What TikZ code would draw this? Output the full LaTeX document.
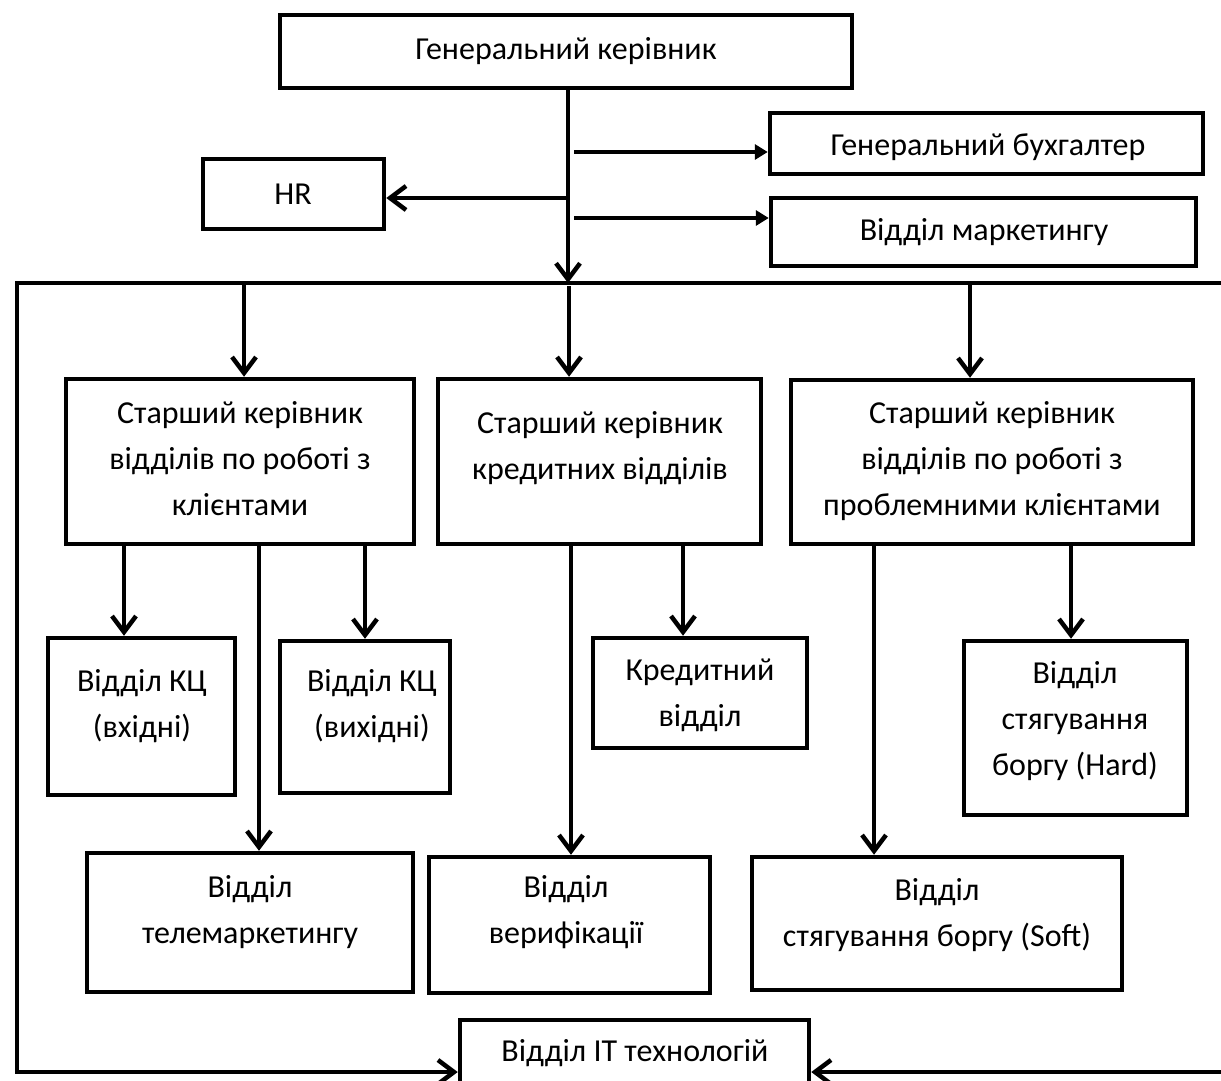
\documentclass[tikz,border=0pt]{standalone}
\usepackage{fontspec}
\setmainfont{Carlito}
\usetikzlibrary{arrows.meta}
\begin{document}
\begin{tikzpicture}[x=1pt,y=-1pt,
  box/.style={draw, line width=4.5pt, rectangle, inner sep=0pt},
  lbl/.style={align=center, font=\fontsize{32}{46}\selectfont, inner sep=0pt},
  conn/.style={line width=4.5pt},
  barb/.style={conn, -{Straight Barb[length=16pt,width=24pt]}},
  tri/.style={conn, -{Triangle[length=13pt,width=15pt]}},
]
\useasboundingbox (0,0) rectangle (1221,1081);

% boxes
\node[box, minimum width=572pt, minimum height=73pt] (gen) at (566,51.5) {};
\node[box, minimum width=433pt, minimum height=61pt] (buh) at (986.5,143.5) {};
\node[box, minimum width=181pt, minimum height=70pt] (hr) at (293.5,194) {};
\node[box, minimum width=425pt, minimum height=68pt] (mkt) at (983.5,232) {};
\node[box, minimum width=348pt, minimum height=165pt] (A) at (240,461.5) {};
\node[box, minimum width=323pt, minimum height=165pt] (B) at (599.5,461.5) {};
\node[box, minimum width=402pt, minimum height=164pt] (C) at (992,462) {};
\node[box, minimum width=187pt, minimum height=157pt] (kcin) at (141.5,716.5) {};
\node[box, minimum width=170pt, minimum height=152pt] (kcout) at (365,717) {};
\node[box, minimum width=214pt, minimum height=110pt] (kred) at (700,693) {};
\node[box, minimum width=223pt, minimum height=174pt] (hard) at (1075.5,728) {};
\node[box, minimum width=326pt, minimum height=139pt] (tele) at (250,922.5) {};
\node[box, minimum width=281pt, minimum height=136pt] (ver) at (569.5,925) {};
\node[box, minimum width=370pt, minimum height=133pt] (soft) at (937,923.5) {};
\node[box, minimum width=349pt, minimum height=80pt] (it) at (634.5,1060) {};

% labels
\node[lbl] (gen-t) at (566,51) {Генеральний керівник};
\node[lbl] (buh-t) at (988,147) {Генеральний бухгалтер};
\node[lbl] (hr-t) at (293,194) {HR};
\node[lbl] (mkt-t) at (984,232) {Відділ маркетингу};
\node[lbl] (A-t) at (240,459) {Старший керівник\\відділів по роботі з\\клієнтами};
\node[lbl] (B-t) at (600,448) {Старший керівник\\кредитних відділів};
\node[lbl] (C-t) at (992,461) {Старший керівник\\відділів по роботі з\\проблемними клієнтами};
\node[lbl] (kcin-t) at (142,706) {Відділ КЦ\\(вхідні)};
\node[lbl] (kcout-t) at (372,706) {Відділ КЦ\\(вихідні)};
\node[lbl] (kred-t) at (700,695) {Кредитний\\відділ};
\node[lbl] (hard-t) at (1075,721) {Відділ\\стягування\\боргу (Hard)};
\node[lbl] (tele-t) at (250,912) {Відділ\\телемаркетингу};
\node[lbl] (ver-t) at (566,912) {Відділ\\верифікації};
\node[lbl] (soft-t) at (937,915) {Відділ\\стягування боргу (Soft)};
\node[lbl] (it-t) at (635,1053) {Відділ IT технологій};

% junction coordinates
\coordinate (jb) at (574,152);
\coordinate (jh) at (568,198);
\coordinate (jm) at (574,218);
\coordinate (busL) at (17,283);
\coordinate (busR) at (1222.8,283);
\coordinate (botL) at (17,1072);
\coordinate (botR) at (1222.8,1072);
\coordinate (dA) at (244,283);
\coordinate (dB) at (569,286);
\coordinate (dC) at (970,283);
\coordinate (a1) at (124,0);
\coordinate (a2) at (259,0);
\coordinate (a3) at (365,0);
\coordinate (b1) at (571,0);
\coordinate (b2) at (683,0);
\coordinate (c1) at (874,0);
\coordinate (c2) at (1071,0);

% top connectors
\draw[barb] (gen.south -| jh) -- (jh |- busL);
\draw[tri] (jb) -- (jb -| buh.west);
\draw[barb] (jh) -- (jh -| hr.east);
\draw[tri] (jm) -- (jm -| mkt.west);

% bus
\draw[barb] (busR) -- (busL) -- (botL) -- (botL -| it.west);
\draw[barb] (busR) -- (botR) -- (botR -| it.east);

% drops
\draw[barb] (dA) -- (dA |- A.north);
\draw[barb] (dB) -- (dB |- B.north);
\draw[barb] (dC) -- (dC |- C.north);

% second level
\draw[barb] (A.south -| a1) -- (kcin.north -| a1);
\draw[barb] (A.south -| a2) -- (tele.north -| a2);
\draw[barb] (A.south -| a3) -- (kcout.north -| a3);
\draw[barb] (B.south -| b1) -- (ver.north -| b1);
\draw[barb] (B.south -| b2) -- (kred.north -| b2);
\draw[barb] (C.south -| c1) -- (soft.north -| c1);
\draw[barb] (C.south -| c2) -- (hard.north -| c2);
\end{tikzpicture}
\end{document}
